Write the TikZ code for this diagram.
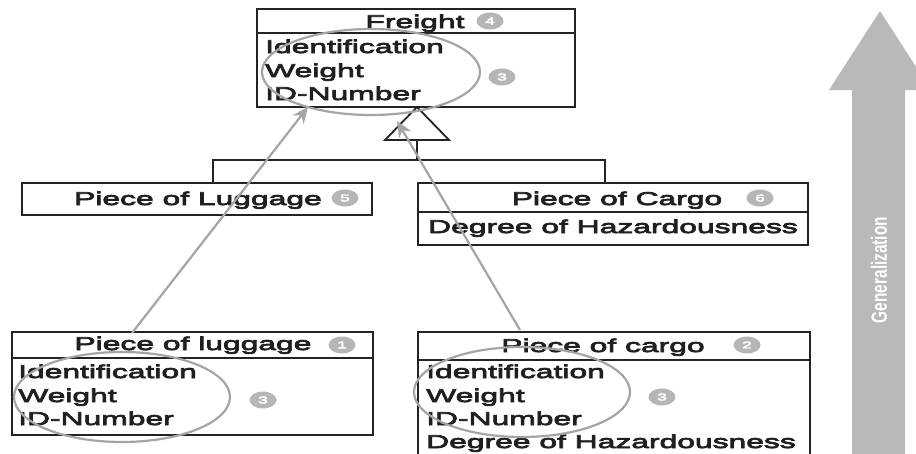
\documentclass[tikz,border=0pt]{standalone}
\usepackage{fontspec}
\setmainfont{Liberation Sans}[FakeStretch=1.72,FakeBold=4]
\newfontfamily\genfont{Liberation Sans Bold}[FakeStretch=0.70]
\usetikzlibrary{arrows.meta,shapes.geometric}
\definecolor{boxline}{RGB}{35,35,35}
\definecolor{hl}{RGB}{165,165,165}
\definecolor{badgegray}{RGB}{182,182,182}
\definecolor{genarrow}{RGB}{185,185,185}
\begin{document}
\begin{tikzpicture}[x=1pt,y=-1pt,
  umlbox/.style={draw=boxline,line width=1.8pt,inner sep=0pt},
  txt/.style={inner sep=0pt,font=\fontsize{18.5}{22}\selectfont,text=black!88},
  badge/.style={ellipse,fill=badgegray,minimum width=27pt,minimum height=17pt,inner sep=0pt,text=white,font=\fontsize{10}{10}\selectfont},
  ring/.style={ellipse,draw=hl,line width=2.2pt,inner sep=0pt},
  link/.style={draw=hl,line width=2.2pt,-{Stealth[length=16pt,width=14pt]}},
  gen/.style={draw=boxline,line width=1.8pt}]
\fill[white] (0,0) rectangle (916,453);
\useasboundingbox (0,0) rectangle (916,453);

% Generalization arrow
\fill[genarrow] (852,470) -- (852,90) -- (829,90) -- (880,11) -- (931,90) -- (905,90) -- (905,470) -- cycle;
\node[rotate=90,text=white,inner sep=0pt,font=\genfont\fontsize{22}{22}\selectfont] (genlabel) at (879,270) {Generalization};

% Boxes
\node[umlbox,minimum width=318pt,minimum height=98pt] (freight) at (416,58) {};
\draw[gen] (257,33) -- (575,33);
\node[umlbox,minimum width=350pt,minimum height=32pt] (lug) at (197,199) {};
\node[umlbox,minimum width=390pt,minimum height=62pt] (cargo) at (613,214) {};
\draw[gen] (418,212) -- (808,212);
\node[umlbox,minimum width=361pt,minimum height=103pt] (bl) at (192.5,383.5) {};
\draw[gen] (12,358) -- (373,358);
\node[umlbox,minimum width=392pt,minimum height=138pt] (br) at (614,401) {};
\draw[gen] (418,360) -- (810,360);

% Inheritance
\coordinate (tip) at (417,107);
\coordinate (tl) at (385,140);
\coordinate (tr) at (449,140);
\coordinate (tb) at (417,140);
\coordinate (jn) at (417,160);
\coordinate (jl) at (213,160);
\coordinate (jr) at (605,160);
\draw[gen,fill=white] (tip) -- (tl) -- (tr) -- cycle;
\draw[gen] (tb) -- (jn);
\draw[gen] (lug.north -| jl) -- (jl) -- (jr) -- (cargo.north -| jr);

% Texts
\node[txt,anchor=base] (t1) at (415,28) {Freight};
\node[txt,anchor=base west] (f1) at (265,53) {Identification};
\node[txt,anchor=base west] (f2) at (265,77) {Weight};
\node[txt,anchor=base west] (f3) at (265,100) {ID-Number};

\node[txt,anchor=base] (t2) at (198,205) {Piece of Luggage};
\node[txt,anchor=base] (t3) at (617,205) {Piece of Cargo};
\node[txt,anchor=base west] (c1) at (428,233) {Degree of Hazardousness};

\node[txt,anchor=base] (t4) at (193,350) {Piece of luggage};
\node[txt,anchor=base west] (l1) at (18,378) {Identification};
\node[txt,anchor=base west] (l2) at (18,402) {Weight};
\node[txt,anchor=base west] (l3) at (18,425) {ID-Number};

\node[txt,anchor=base] (t5) at (603,352) {Piece of cargo};
\node[txt,anchor=base west] (r1) at (426,378) {Identification};
\node[txt,anchor=base west] (r2) at (426,402) {Weight};
\node[txt,anchor=base west] (r3) at (426,425) {ID-Number};
\node[txt,anchor=base west] (r4) at (426,448) {Degree of Hazardousness};

% Badges
\node[badge] (b4) at (490,21) {4};
\node[badge] (b3a) at (502,77) {3};
\node[badge] (b5) at (345,198) {5};
\node[badge] (b6) at (760,198) {6};
\node[badge] (b1) at (342,345) {1};
\node[badge] (b3b) at (263,400) {3};
\node[badge] (b2) at (747,345) {2};
\node[badge] (b3c) at (662,397) {3};

% Rings
\node[ring,minimum width=218pt,minimum height=86pt] (ringf) at (371,72) {};
\node[ring,minimum width=216pt,minimum height=90pt] (ringl) at (122,397) {};
\node[ring,minimum width=216pt,minimum height=90pt] (ringc) at (522,392) {};

% Links
\coordinate (s1) at (132,333);
\coordinate (e1) at (308,107);
\coordinate (s2) at (520,330);
\coordinate (e2) at (397,121);
\draw[link] (s1) -- (e1);
\draw[link] (s2) -- (e2);
\end{tikzpicture}
\end{document}
